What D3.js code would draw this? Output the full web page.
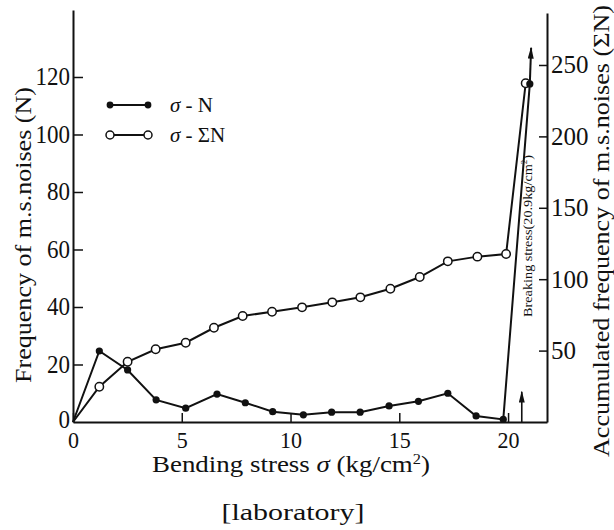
<!DOCTYPE html>
<html>
<head>
<meta charset="utf-8">
<script src="https://cdn.jsdelivr.net/npm/d3@7"></script>
<style>
  body { margin: 0; background: #fff; }
  svg text { font-family: "Liberation Serif", "DejaVu Serif", serif; fill: #111; }
</style>
</head>
<body>
<svg id="chart"></svg>
<script>
// sigma - N (filled dots), left axis
const sigmaN = [0, 1.21, 2.51, 3.82, 5.18, 6.62, 7.92, 9.18, 10.59, 11.89, 13.2, 14.53, 15.88, 17.23, 18.53, 19.78, 21.0];
const countN = [0, 24.7, 18.1, 7.7, 4.8, 9.7, 6.7, 3.6, 2.5, 3.4, 3.4, 5.6, 7.2, 10.0, 2.1, 0.9, 117.6];

// sigma - sum N (open dots), right axis
const sigmaSum = [0, 1.21, 2.51, 3.80, 5.18, 6.48, 7.80, 9.15, 10.53, 11.92, 13.21, 14.59, 15.94, 17.23, 18.59, 19.91, 20.81];
const countSum = [0, 24.7, 42.2, 50.9, 55.5, 66.0, 74.2, 77.2, 80.3, 83.8, 87.3, 93.3, 101.5, 112.5, 115.8, 117.6, 237.2];

const xTicks = [0, 5, 10, 15, 20];
const leftTicks = [0, 20, 40, 60, 80, 100, 120];
const rightTicks = [50, 100, 150, 200, 250];

// breaking stress marks
const breakArrowTop = { sigma: 21.06, sum: 262 };
const smallArrow = { sigma: 20.63, from: 0, to: 10.5 };

const W = 614, H = 530;
const svg = d3.select("#chart").attr("width", W).attr("height", H)
  .style("background", "#fff");

const x = d3.scaleLinear().domain([0, 21.79]).range([73, 547]);
const yL = d3.scaleLinear().domain([0, 143.3]).range([422, 10]);
const yR = d3.scaleLinear().domain([0, 286.4]).range([422, 13]);

const defs = svg.append("defs");
defs.append("marker")
  .attr("id", "arrow")
  .attr("viewBox", "0 0 10 10")
  .attr("preserveAspectRatio", "none")
  .attr("refX", 9).attr("refY", 5)
  .attr("markerWidth", 12).attr("markerHeight", 6)
  .attr("markerUnits", "userSpaceOnUse")
  .attr("orient", "auto")
  .append("path").attr("d", "M0,0 L10,5 L0,10 z").attr("fill", "#111");

// axes
function styleAxis(g, fontSize, perChar) {
  g.select(".domain").attr("stroke", "#111").attr("stroke-width", 2);
  g.selectAll(".tick line").attr("stroke", "#111").attr("stroke-width", 1.5);
  g.selectAll(".tick text")
    .attr("font-size", fontSize)
    .attr("fill", "#111")
    .attr("textLength", function() { return this.textContent.length * perChar; })
    .attr("lengthAdjust", "spacingAndGlyphs");
}

svg.append("g")
  .attr("transform", `translate(0,${yL(0)})`)
  .call(d3.axisBottom(x).tickValues(xTicks).tickSize(-9).tickSizeOuter(0).tickPadding(3))
  .call(g => styleAxis(g, 24, 11))
  .call(g => g.selectAll(".tick text").attr("dy", "0.95em"));

const gLeft = svg.append("g")
  .attr("transform", `translate(${x(0)},0)`)
  .call(d3.axisLeft(yL).tickValues(leftTicks).tickSize(-10).tickSizeOuter(0).tickPadding(3))
  .call(g => styleAxis(g, 25, 11.5));
gLeft.selectAll(".tick").filter(d => d === 0).select("line").remove();
gLeft.selectAll(".tick").filter(d => d === 0).select("text").attr("dy", "0.2em");

svg.append("g")
  .attr("transform", `translate(${x.range()[1]},0)`)
  .call(d3.axisRight(yR).tickValues(rightTicks).tickSize(-8).tickSizeOuter(0).tickPadding(4))
  .call(g => styleAxis(g, 25, 12.5));

// series lines
const lineN = d3.line().x(d => x(d[0])).y(d => yL(d[1]));
const lineSum = d3.line().x(d => x(d[0])).y(d => yR(d[1]));
const ptsN = sigmaN.map((s, i) => [s, countN[i]]);
const ptsSum = sigmaSum.map((s, i) => [s, countSum[i]]);

svg.append("path").datum(ptsN).attr("d", lineN)
  .attr("fill", "none").attr("stroke", "#111").attr("stroke-width", 2);
svg.append("path").datum(ptsSum).attr("d", lineSum)
  .attr("fill", "none").attr("stroke", "#111").attr("stroke-width", 2);

// breaking arrow at the top
const last = ptsN[ptsN.length - 1];
svg.append("line")
  .attr("x1", x(last[0])).attr("y1", yL(last[1]))
  .attr("x2", x(breakArrowTop.sigma)).attr("y2", yR(breakArrowTop.sum))
  .attr("stroke", "#111").attr("stroke-width", 2)
  .attr("marker-end", "url(#arrow)");

// small arrow at breaking stress
svg.append("line")
  .attr("x1", x(smallArrow.sigma)).attr("y1", yL(smallArrow.from))
  .attr("x2", x(smallArrow.sigma)).attr("y2", yL(smallArrow.to))
  .attr("stroke", "#111").attr("stroke-width", 1.6)
  .attr("marker-end", "url(#arrow)");

// markers
svg.selectAll("circle.sum").data(ptsSum.slice(1)).join("circle")
  .attr("class", "sum")
  .attr("cx", d => x(d[0])).attr("cy", d => yR(d[1])).attr("r", 4.2)
  .attr("fill", "#fff").attr("stroke", "#111").attr("stroke-width", 1.5);
svg.selectAll("circle.n").data(ptsN.slice(1)).join("circle")
  .attr("class", "n")
  .attr("cx", d => x(d[0])).attr("cy", d => yL(d[1])).attr("r", 3.6)
  .attr("fill", "#111");

// legend
const legend = [
  { label: "N", filled: true, y: 105 },
  { label: "ΣN", filled: false, y: 135 }
];
const lg = svg.append("g");
legend.forEach(d => {
  lg.append("line").attr("x1", 110).attr("x2", 148).attr("y1", d.y).attr("y2", d.y)
    .attr("stroke", "#111").attr("stroke-width", 2);
  [110, 148].forEach(cx => {
    lg.append("circle").attr("cx", cx).attr("cy", d.y).attr("r", d.filled ? 3.4 : 4)
      .attr("fill", d.filled ? "#111" : "#fff").attr("stroke", "#111")
      .attr("stroke-width", d.filled ? 0 : 1.5);
  });
  const t = lg.append("text").attr("x", 170).attr("y", d.y + 7).attr("font-size", 21);
  t.append("tspan").attr("font-style", "italic").text("σ");
  t.append("tspan").text(" - ");
  t.append("tspan").text(d.label);
});

// axis titles
const xt = svg.append("text").attr("x", 291).attr("y", 472)
  .attr("text-anchor", "middle").attr("font-size", 23)
  .attr("textLength", 278).attr("lengthAdjust", "spacingAndGlyphs");
xt.append("tspan").text("Bending stress ");
xt.append("tspan").attr("font-style", "italic").text("σ");
xt.append("tspan").text(" (kg/cm");
xt.append("tspan").attr("font-size", 14).attr("dy", -8).text("2");
xt.append("tspan").attr("dy", 8).text(")");

svg.append("text").attr("transform", "translate(31,235) rotate(-90)")
  .attr("text-anchor", "middle").attr("font-size", 23)
  .attr("textLength", 296).attr("lengthAdjust", "spacingAndGlyphs")
  .text("Frequency of m.s.noises (N)");

svg.append("text").attr("transform", "translate(609,231) rotate(-90)")
  .attr("text-anchor", "middle").attr("font-size", 23)
  .attr("textLength", 452).attr("lengthAdjust", "spacingAndGlyphs")
  .text("Accumulated frequency of m.s.noises (ΣN)");

const bt = svg.append("text").attr("transform", "translate(532,236) rotate(-90)")
  .attr("text-anchor", "middle").attr("font-size", 13)
  .attr("textLength", 162).attr("lengthAdjust", "spacingAndGlyphs");
bt.append("tspan").text("Breaking  stress(20.9kg/cm");
bt.append("tspan").attr("font-size", 8).attr("dy", -5).text("2");
bt.append("tspan").attr("dy", 5).text(")");

svg.append("text").attr("x", 293).attr("y", 520)
  .attr("text-anchor", "middle").attr("font-size", 23)
  .attr("textLength", 143).attr("lengthAdjust", "spacingAndGlyphs")
  .text("[laboratory]");
</script>
</body>
</html>
